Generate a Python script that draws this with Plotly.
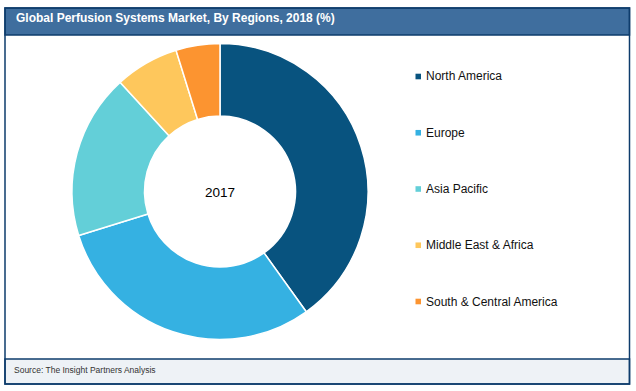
import plotly.graph_objects as go

W, H = 636, 391

# ---- data ----
regions = ["North America", "Europe", "Asia Pacific", "Middle East & Africa", "South & Central America"]
shares = [40.1, 30.1, 18.0, 7.0, 4.8]
colors = ["#08537F", "#35B1E2", "#63CFD8", "#FEC75C", "#FC9430"]
title_text = "Global Perfusion Systems Market, By Regions, 2018 (%)"
center_label = "2017"
source_text = "Source: The Insight Partners Analysis"

def px(x):
    return x / W

def py(y):
    return 1 - y / H

border = "#0E3C6C"
font_family = "Arial, Liberation Sans, sans-serif"

fig = go.Figure()

cx, cy, r = 220, 191.5, 148
fig.add_trace(go.Pie(
    labels=regions,
    values=shares,
    hole=0.51,
    sort=False,
    direction="clockwise",
    rotation=0,
    marker=dict(colors=colors, line=dict(color="white", width=1.5)),
    textinfo="none",
    hoverinfo="label+percent",
    showlegend=False,
    domain=dict(x=[px(cx - r), px(cx + r)], y=[py(cy + r), py(cy - r)]),
))

shapes = []
annotations = []

# outer frame
shapes.append(dict(type="rect", xref="paper", yref="paper",
                   x0=px(5), x1=px(629.5), y0=py(384), y1=py(8),
                   line=dict(color=border, width=1.5), fillcolor="rgba(0,0,0,0)", layer="above"))
# title bar
shapes.append(dict(type="rect", xref="paper", yref="paper",
                   x0=px(5), x1=px(629.5), y0=py(35), y1=py(8),
                   line=dict(color=border, width=1.5), fillcolor="#3F6E9E", layer="below"))
# footer
shapes.append(dict(type="rect", xref="paper", yref="paper",
                   x0=px(5), x1=px(629.5), y0=py(384), y1=py(359),
                   line=dict(color=border, width=1.5), fillcolor="#EEF2F6", layer="below"))

annotations.append(dict(xref="paper", yref="paper", x=px(14), y=py(18.5),
                        xanchor="left", yanchor="middle", showarrow=False,
                        text="<b>" + title_text + "</b>",
                        font=dict(family=font_family, size=12, color="white")))
annotations.append(dict(xref="paper", yref="paper", x=px(12), y=py(370),
                        xanchor="left", yanchor="middle", showarrow=False,
                        text=source_text,
                        font=dict(family=font_family, size=8.5, color="#333333")))
annotations.append(dict(xref="paper", yref="paper", x=px(cx), y=py(193),
                        xanchor="center", yanchor="middle", showarrow=False,
                        text=center_label,
                        font=dict(family=font_family, size=13.5, color="black")))

# legend
ly0, ldy = 76.5, 56.25
for i, (name, col) in enumerate(zip(regions, colors)):
    yc = ly0 + i * ldy
    shapes.append(dict(type="rect", xref="paper", yref="paper",
                       x0=px(415.5), x1=px(421), y0=py(yc + 2.8), y1=py(yc - 2.8),
                       line=dict(width=0), fillcolor=col))
    annotations.append(dict(xref="paper", yref="paper", x=px(424), y=py(yc),
                            xanchor="left", yanchor="middle", showarrow=False,
                            text=name,
                            font=dict(family=font_family, size=12, color="#111111")))

fig.update_layout(
    width=W, height=H,
    margin=dict(l=0, r=0, t=0, b=0),
    paper_bgcolor="white",
    plot_bgcolor="white",
    shapes=shapes,
    annotations=annotations,
)

fig.write_html("out.html",
               config={"displayModeBar": False},
               post_script="document.body.style.margin='0';document.body.style.overflow='hidden';")
